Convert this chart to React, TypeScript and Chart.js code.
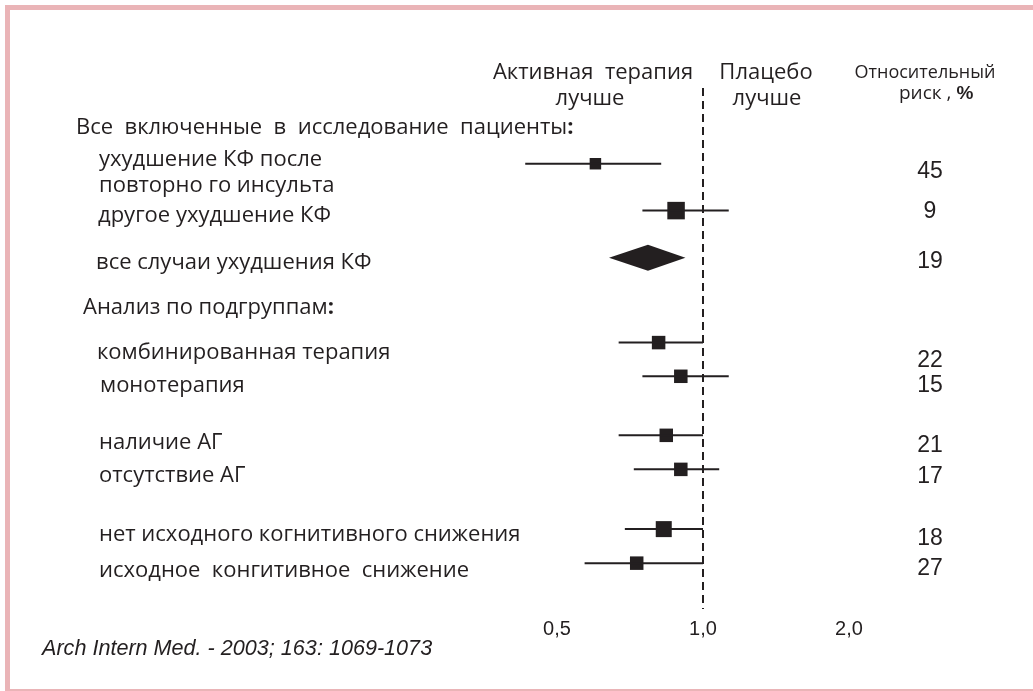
import React, { useEffect, useRef } from 'react';
import { Chart, registerables } from 'chart.js';

Chart.register(...registerables);

// ---------------- data ----------------
const rowLabels: string[][] = [
  ['ухудшение КФ после', 'повторно го инсульта'],
  ['другое ухудшение КФ'],
  ['все случаи ухудшения КФ'],
  ['комбинированная терапия'],
  ['монотерапия'],
  ['наличие АГ'],
  ['отсутствие АГ'],
  ['нет исходного когнитивного снижения'],
  ['исходное  конгитивное  снижение'],
];
const estimates = [0.6, 0.88, 0.77, 0.81, 0.9, 0.84, 0.9, 0.83, 0.73];
const lowerCI = [0.43, 0.75, 0.64, 0.67, 0.75, 0.67, 0.72, 0.69, 0.57];
const upperCI = [0.82, 1.13, 0.92, 1.0, 1.13, 1.0, 1.08, 1.0, 1.0];
const relativeRisk = ['45', '9', '19', '22', '15', '21', '17', '18', '27'];
const summaryRow = [false, false, true, false, false, false, false, false, false];
const studyWeight = [11.5, 17.5, 0, 13.5, 13.5, 13.5, 13.5, 16, 13.5];
const xTicks = [0.5, 1, 2];
const xTickLabels = ['0,5', '1,0', '2,0'];
const groupHeaders = ['Все  включенные  в  исследование  пациенты', 'Анализ по подгруппам'];
const leftHeader = ['Активная  терапия', 'лучше'];
const rightHeader = ['Плацебо', 'лучше'];
const rrHeader = ['Относительный', 'риск , ', '%'];
const citation = 'Arch Intern Med. - 2003; 163: 1069-1073';

// ---------------- layout ----------------
const rowSlot = [2.18, 3.53, 4.89, 7.33, 8.3, 10.0, 10.98, 12.7, 13.68];
const labelX = [99, 98, 96, 97, 100, 99, 99, 99, 99];
const labelBaseline = [166, 222, 269, 359, 392, 449, 482, 541, 577];
const rrBaseline = [178, 218, 268, 367, 392, 452, 483, 545, 575];
const INK = '#231f20';
const FRAME = '#eab4b7';
const SANS = "'Open Sans', 'Noto Sans', sans-serif";
const ARIAL = "'Liberation Sans', Arial, sans-serif";

const forestPlugin = {
  id: 'forestDecor',
  beforeDatasetsDraw(chart: any) {
    const { ctx, scales } = chart;
    const x = scales.x.getPixelForValue(1);
    ctx.save();
    ctx.strokeStyle = INK;
    ctx.lineWidth = 2;
    ctx.setLineDash([8, 5]);
    ctx.beginPath();
    ctx.moveTo(x, scales.y.getPixelForValue(0));
    ctx.lineTo(x, scales.y.getPixelForValue(15));
    ctx.stroke();
    ctx.restore();
  },
  afterDatasetsDraw(chart: any) {
    const { ctx, scales } = chart;
    ctx.save();
    ctx.fillStyle = INK;
    // summary diamonds
    summaryRow.forEach((s, i) => {
      if (!s) return;
      const y = scales.y.getPixelForValue(rowSlot[i]);
      const xl = scales.x.getPixelForValue(lowerCI[i]);
      const xe = scales.x.getPixelForValue(estimates[i]);
      const xh = scales.x.getPixelForValue(upperCI[i]);
      const h = 13;
      ctx.beginPath();
      ctx.moveTo(xl, y);
      ctx.lineTo(xe, y - h);
      ctx.lineTo(xh, y);
      ctx.lineTo(xe, y + h);
      ctx.closePath();
      ctx.fill();
    });

    ctx.textBaseline = 'alphabetic';
    const txt = (t: string, x: number, y: number, font: string, align: CanvasTextAlign = 'left') => {
      ctx.font = font;
      ctx.textAlign = align;
      ctx.fillText(t, x, y);
      return ctx.measureText(t).width;
    };
    const f22 = `500 22px ${SANS}`;
    // column headers
    txt(leftHeader[0], 593, 79, f22, 'center');
    txt(leftHeader[1], 590, 105, f22, 'center');
    txt(rightHeader[0], 766, 79, f22, 'center');
    txt(rightHeader[1], 767, 105, f22, 'center');
    txt(rrHeader[0], 925, 78, `500 18px ${SANS}`, 'center');
    const w = txt(rrHeader[1], 899, 99, `500 19px ${SANS}`);
    txt(rrHeader[2], 899 + w, 99, `bold 19px ${ARIAL}`);
    // group headers
    let gw = txt(groupHeaders[0], 76, 134, f22);
    txt(':', 76 + gw, 134, `bold 22px ${SANS}`);
    gw = txt(groupHeaders[1], 83, 314, f22);
    txt(':', 83 + gw, 314, `bold 22px ${SANS}`);
    // row labels & relative risk
    rowLabels.forEach((lines, i) => {
      lines.forEach((line, j) => txt(line, labelX[i], labelBaseline[i] + j * 26, f22));
      txt(relativeRisk[i], 930, rrBaseline[i], `23px ${ARIAL}`, 'center');
    });
    txt(citation, 42, 655, `italic 21.6px ${ARIAL}`);
    ctx.restore();
  },
};

export default function App() {
  const ref = useRef<HTMLCanvasElement | null>(null);
  useEffect(() => {
    if (!ref.current) return;
    const datasets: any[] = [];
    estimates.forEach((_, i) => {
      if (summaryRow[i]) return;
      datasets.push({
        type: 'line',
        data: [
          { x: lowerCI[i], y: rowSlot[i] },
          { x: upperCI[i], y: rowSlot[i] },
        ],
        borderColor: INK,
        borderWidth: 2,
        pointRadius: 0,
        fill: false,
        tension: 0,
      });
    });
    const idx = estimates.map((_, i) => i).filter((i) => !summaryRow[i]);
    datasets.push({
      type: 'scatter',
      data: idx.map((i) => ({ x: estimates[i], y: rowSlot[i] })),
      pointStyle: 'rect',
      pointRadius: idx.map((i) => studyWeight[i] / Math.SQRT2),
      backgroundColor: INK,
      borderWidth: 0,
      pointBorderWidth: 0,
    });
    const chart = new Chart(ref.current, {
      type: 'scatter',
      data: { datasets },
      options: {
        animation: false,
        responsive: false,
        devicePixelRatio: 1,
        layout: { padding: { left: 510, right: 137, top: 88, bottom: 42 } },
        plugins: { legend: { display: false }, tooltip: { enabled: false } },
        scales: {
          x: {
            type: 'logarithmic',
            min: 0.4,
            max: 2.5,
            grid: { display: false, drawTicks: false },
            border: { display: false },
            afterBuildTicks: (s: any) => {
              s.ticks = xTicks.map((v) => ({ value: v }));
            },
            ticks: {
              autoSkip: false,
              maxRotation: 0,
              padding: 8,
              color: INK,
              font: { family: ARIAL, size: 20 },
              callback: (v: any) => {
                const k = xTicks.indexOf(Number(v));
                return k >= 0 ? xTickLabels[k] : '';
              },
            },
          },
          y: { type: 'linear', min: 0, max: 15, reverse: true, display: false },
        },
      } as any,
      plugins: [forestPlugin],
    });
    return () => chart.destroy();
  }, []);

  return (
    <div
      style={{
        position: 'fixed',
        left: 0,
        top: 0,
        width: 1033,
        height: 691,
        background: '#fff',
        overflow: 'hidden',
      }}
    >
      <div
        style={{
          position: 'absolute',
          left: 5,
          top: 5,
          width: 1100,
          height: 686,
          boxSizing: 'border-box',
          borderTop: `5px solid ${FRAME}`,
          borderLeft: `5px solid ${FRAME}`,
          borderBottom: `2px solid ${FRAME}`,
        }}
      />
      <canvas
        ref={ref}
        width={1033}
        height={691}
        style={{ position: 'absolute', left: 0, top: 0, width: 1033, height: 691 }}
      />
    </div>
  );
}
